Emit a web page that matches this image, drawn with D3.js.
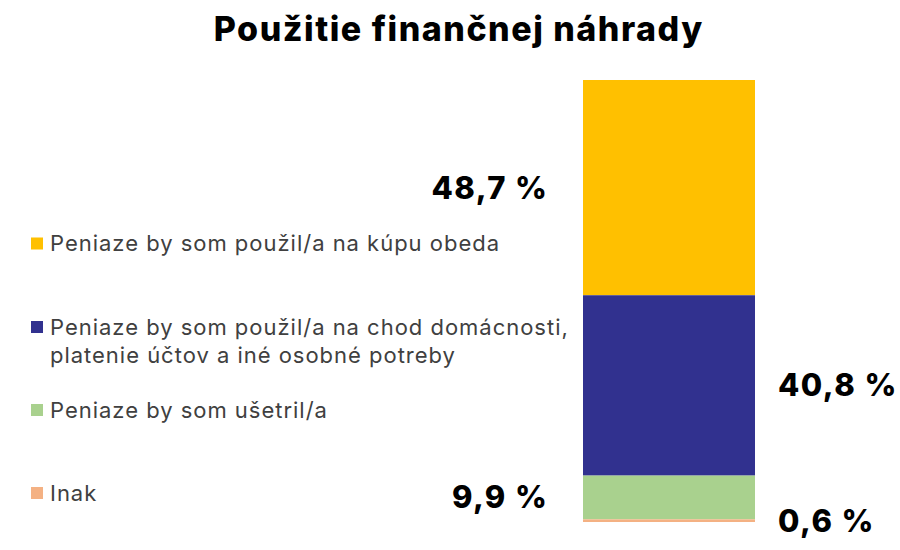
<!DOCTYPE html>
<html>
<head>
<meta charset="utf-8">
<script src="https://cdn.jsdelivr.net/npm/d3@7"></script>
<style>
  body { margin: 0; background: #fff; }
  svg { display: block; font-family: Inter, "Open Sans", sans-serif; }
</style>
</head>
<body>
<div id="chart"></div>
<script>
// --- Data ---
const categories = [
    "Peniaze by som použil/a na kúpu obeda",
    "Peniaze by som použil/a na chod domácnosti,|platenie účtov a iné osobné potreby",
    "Peniaze by som ušetril/a",
    "Inak"
];
const values = [48.7, 40.8, 9.9, 0.6];
const valueLabels = ["48,7 %", "40,8 %", "9,9 %", "0,6 %"];
const colors = ["#FFC000", "#31318F", "#A9D18E", "#F4B183"];
const labelSide = ["left", "right", "left", "right"];

const width = 900, height = 550;

const svg = d3.select("#chart").append("svg")
    .attr("width", width)
    .attr("height", height);

// the original uses a wide geometric font; widen ours with letter-spacing
function spacingFor(sel, target) {
    const n = sel.text().length;
    const len = sel.node().getComputedTextLength();
    return Math.max(0, (target - len) / n);
}

// title
const title = svg.append("text")
    .attr("x", 458)
    .attr("y", 41)
    .attr("text-anchor", "middle")
    .attr("fill", "#000")
    .style("font-size", "34px")
    .style("font-weight", "800")
    .text("Použitie finančnej náhrady");
const tls = spacingFor(title, 490);
title.style("letter-spacing", tls + "px").attr("x", 458 + tls / 2);

// --- Scales ---
const x = d3.scaleBand().domain(["all"]).range([583, 755]).padding(0);
const y = d3.scaleLinear().domain([0, 100]).range([522, 80]);

// stack the values bottom-up from the last category
let acc = 0;
const segs = [];
for (let i = values.length - 1; i >= 0; i--) {
    segs[i] = { i, y0: acc, y1: acc + values[i] };
    acc += values[i];
}

svg.append("g").selectAll("rect")
    .data(segs)
    .enter()
    .append("rect")
    .attr("x", x("all"))
    .attr("width", x.bandwidth())
    .attr("y", d => y(d.y1))
    .attr("height", d => y(d.y0) - y(d.y1))
    .attr("fill", d => colors[d.i]);

// value labels
const vals = svg.append("g").selectAll("text")
    .data(segs)
    .enter()
    .append("text")
    .attr("y", d => Math.min(y((d.y0 + d.y1) / 2), 521) + 11)
    .attr("fill", "#000")
    .style("font-size", "31px")
    .style("font-weight", "800")
    .text(d => valueLabels[d.i]);

const vls = spacingFor(vals.filter((d, i) => i === 0), 117);
vals.style("letter-spacing", vls + "px")
    .attr("text-anchor", d => labelSide[d.i] === "left" ? "end" : "start")
    .attr("x", d => labelSide[d.i] === "left"
        ? x("all") - 36 + vls
        : x("all") + x.bandwidth() + 23);

// legend
const legendY = [243.5, 327, 410, 493];
const legend = svg.append("g").selectAll("g")
    .data(categories)
    .enter()
    .append("g")
    .attr("transform", (d, i) => `translate(31, ${legendY[i]})`);

legend.append("rect")
    .attr("x", 0)
    .attr("y", -6)
    .attr("width", 12)
    .attr("height", 12)
    .attr("fill", (d, i) => colors[i]);

const ltext = legend.append("text")
    .attr("x", 19)
    .attr("y", 7.5)
    .attr("fill", "#404040")
    .style("font-size", "22px")
    .style("font-weight", "400");

ltext.selectAll("tspan")
    .data(d => d.split("|"))
    .enter()
    .append("tspan")
    .attr("x", 19)
    .attr("dy", (d, i) => i === 0 ? 0 : 28)
    .text(d => d);

const lls = spacingFor(ltext.filter((d, i) => i === 0), 450);
ltext.style("letter-spacing", lls + "px");
</script>
</body>
</html>
